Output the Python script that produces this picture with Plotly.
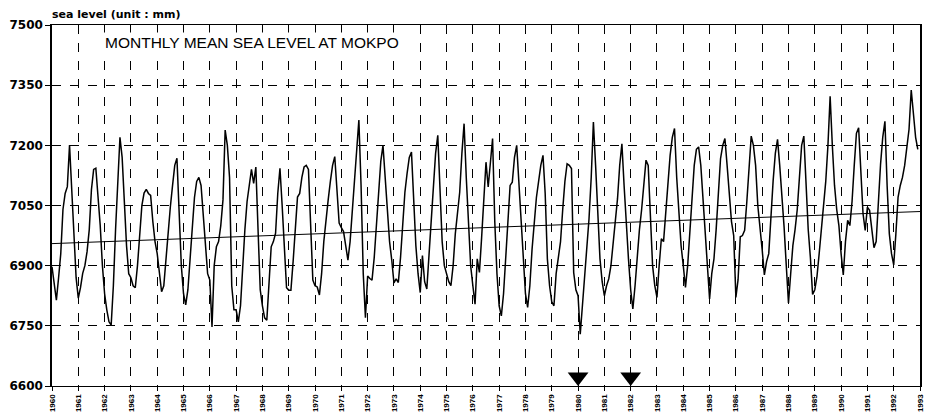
import plotly.graph_objects as go

# Monthly mean sea level at Mokpo (mm), Jan..Dec of each year
sl_1960s = [
    6897, 6860, 6814, 6870, 6930, 7040, 7080, 7097, 7201, 7090, 6960, 6870,  # 1960
    6819, 6845, 6881, 6900, 6935, 6990, 7090, 7140, 7143, 7080, 7000, 6900,  # 1961
    6830, 6790, 6760, 6752, 6850, 6990, 7110, 7220, 7170, 7050, 6950, 6880,  # 1962
    6870, 6850, 6845, 6900, 6980, 7050, 7081, 7090, 7080, 7075, 7010, 6960,  # 1963
    6930, 6880, 6835, 6850, 6920, 6990, 7047, 7100, 7150, 7168, 7020, 6900,  # 1964
    6830, 6802, 6840, 6920, 7000, 7070, 7110, 7120, 7100, 7020, 6940, 6880,  # 1965
    6864, 6747, 6900, 6947, 6960, 7000, 7064, 7238, 7200, 7120, 6850, 6790,  # 1966
    6790, 6760, 6800, 6900, 6990, 7060, 7097, 7140, 7105, 7146, 6990, 6840,  # 1967
    6800, 6770, 6764, 6850, 6947, 6960, 6981, 7080, 7143, 7050, 6930, 6845,  # 1968
    6839, 6839, 6910, 7000, 7071, 7080, 7120, 7146, 7150, 7140, 6990, 6864,  # 1969
]
sl_1970s = [
    6850, 6847, 6827, 6880, 6960, 7020, 7064, 7110, 7150, 7172, 7080, 7006,  # 1970
    6995, 6985, 6950, 6914, 6960, 7040, 7110, 7200, 7263, 7100, 6880, 6770,  # 1971
    6874, 6868, 6864, 6920, 6990, 7080, 7160, 7200, 7120, 7030, 6960, 6914,  # 1972
    6857, 6867, 6858, 6920, 7000, 7083, 7130, 7170, 7183, 7060, 6950, 6880,  # 1973
    6833, 6925, 6860, 6842, 6920, 7000, 7100, 7180, 7225, 7080, 6960, 6900,  # 1974
    6880, 6860, 6850, 6900, 6980, 7040, 7083, 7180, 7254, 7120, 6990, 6900,  # 1975
    6850, 6804, 6917, 6883, 6970, 7070, 7158, 7096, 7160, 7217, 7010, 6880,  # 1976
    6800, 6775, 6830, 6920, 7010, 7100, 7108, 7170, 7200, 7110, 7000, 6917,  # 1977
    6830, 6796, 6850, 6940, 7010, 7070, 7110, 7150, 7175, 7080, 6917, 6850,  # 1978
    6810, 6800, 6880, 6920, 6960, 7040, 7110, 7154, 7150, 7142, 6883, 6840,  # 1979
]
sl_1980s = [
    6825, 6729, 6800, 6880, 6950, 7017, 7120, 7258, 7150, 7030, 6917, 6860,  # 1980
    6825, 6850, 6867, 6900, 6960, 7020, 7067, 7150, 7204, 7100, 7000, 6917,  # 1981
    6840, 6792, 6850, 6930, 6990, 7040, 7110, 7163, 7150, 7020, 6900, 6850,  # 1982
    6821, 6900, 6967, 6960, 7040, 7110, 7175, 7220, 7242, 7120, 7030, 6950,  # 1983
    6900, 6846, 6900, 6980, 7070, 7150, 7190, 7196, 7150, 7060, 6970, 6900,  # 1984
    6817, 6880, 6917, 6990, 7080, 7167, 7200, 7217, 7150, 7070, 7010, 6975,  # 1985
    6821, 6865, 6972, 6975, 6988, 7060, 7150, 7223, 7200, 7150, 7050, 7000,  # 1986
    6940, 6877, 6910, 6930, 7030, 7112, 7180, 7215, 7150, 7080, 6996, 6900,  # 1987
    6807, 6880, 6950, 6990, 7040, 7120, 7200, 7223, 7100, 6990, 6920, 6828,  # 1988
    6840, 6873, 6930, 6990, 7060, 7110, 7200, 7322, 7200, 7100, 7040, 7000,  # 1989
]
sl_1990s = [
    6930, 6877, 6960, 7013, 7000, 7060, 7150, 7230, 7244, 7120, 7030, 6988,  # 1990
    7046, 7038, 6990, 6945, 6960, 7060, 7153, 7220, 7260, 7100, 6980, 6930,  # 1991
    6902, 6980, 7071, 7100, 7120, 7150, 7190, 7240, 7338, 7270, 7220, 7190,  # 1992
]

first_year = 1960
years = list(range(1960, 1994))
year_labels = [str(y) for y in years]
y_ticks = [6600, 6750, 6900, 7050, 7200, 7350, 7500]
trend_years = [1960, 1993]
trend_values = [6955, 7035]
marker_years = [1980, 1982]

values = sl_1960s + sl_1970s + sl_1980s + sl_1990s
months = [first_year + i / 12 for i in range(len(values))]

W, H = 927, 417
ML, MR, MT, MB = 52, 2, 25, 31
plot_h = H - MT - MB
y_min, y_max = 6600, 7500

fig = go.Figure()
fig.add_trace(go.Scatter(x=months, y=values, mode="lines",
                         line=dict(color="black", width=1.5), showlegend=False))
fig.add_trace(go.Scatter(x=trend_years, y=trend_values, mode="lines",
                         line=dict(color="black", width=1), showlegend=False))
# downward triangles sitting on the bottom axis
tri_size = 18
tri_offset = (tri_size / 2) * (y_max - y_min) / plot_h
fig.add_trace(go.Scatter(x=marker_years, y=[y_min + tri_offset] * len(marker_years),
                         mode="markers", cliponaxis=False,
                         marker=dict(symbol="triangle-down", size=tri_size, color="black"),
                         showlegend=False))

fig.update_layout(
    width=W, height=H,
    margin=dict(l=ML, r=MR, t=MT, b=MB),
    paper_bgcolor="white", plot_bgcolor="white",
    font=dict(family="Liberation Sans, Arial", color="black"),
    xaxis=dict(range=[1960, 1993], tickvals=years, ticktext=year_labels,
               tickangle=-90, ticklabeloverflow="allow",
               tickfont=dict(size=8, weight="bold", family="Liberation Sans"),
               showgrid=True, gridcolor="black", griddash="dash", gridwidth=0.8,
               showline=True, linecolor="black", linewidth=1.2, mirror=True,
               ticks="outside", ticklen=4, tickcolor="black", zeroline=False),
    yaxis=dict(range=[y_min, y_max], tickvals=y_ticks,
               tickfont=dict(size=12, weight="bold", family="DejaVu Sans"),
               showgrid=True, gridcolor="black", griddash="dash", gridwidth=0.8,
               showline=True, linecolor="black", linewidth=1.5, mirror=True,
               ticks="outside", ticklen=5, tickcolor="black", zeroline=False),
    annotations=[
        dict(text="sea level (unit : mm)", xref="paper", yref="paper",
             x=(50 - ML) / (W - ML - MR), y=1 + (MT - 14) / plot_h,
             xanchor="left", yanchor="middle", showarrow=False,
             font=dict(size=11, weight="bold", family="DejaVu Sans")),
        dict(text="MONTHLY MEAN SEA LEVEL AT MOKPO", xref="paper", yref="paper",
             x=(103 - ML) / (W - ML - MR), y=1 - (43 - MT) / plot_h,
             xanchor="left", yanchor="middle", showarrow=False, bgcolor="white",
             font=dict(size=15.5, family="Liberation Sans")),
    ],
)

fig.write_html("out.html")
